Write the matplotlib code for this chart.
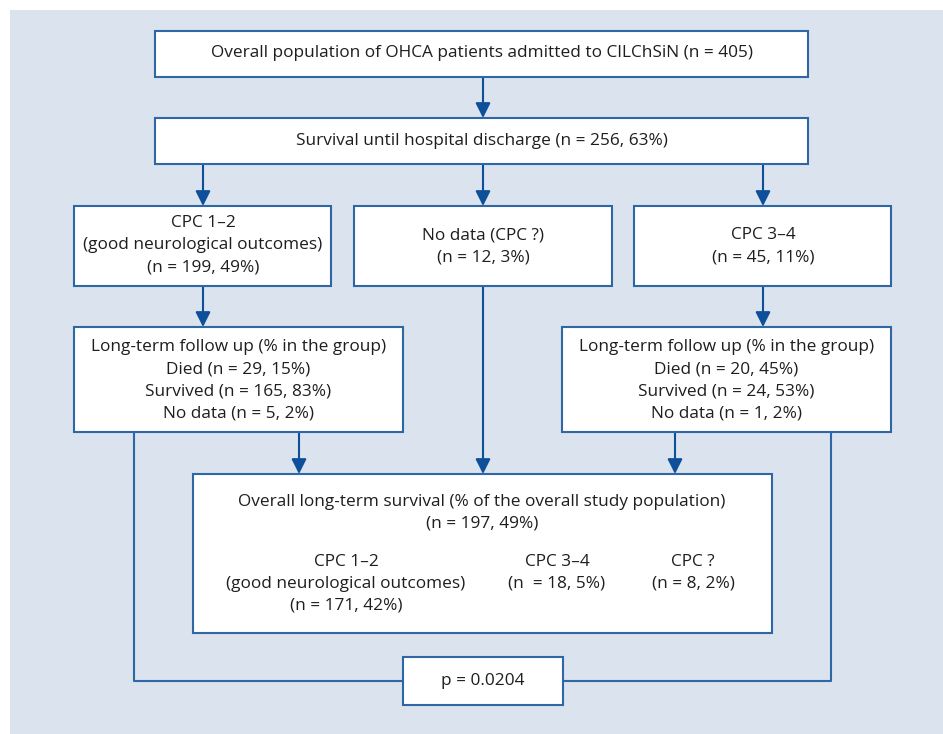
# Schemat przepływu pacjentów OHCA - odtworzenie ryciny

import matplotlib.pyplot as plt
from matplotlib.patches import Rectangle

# dane z ryciny
n_ogolem = 405
wypis = (256, 63)
cpc12 = (199, 49)
brak_cpc = (12, 3)
cpc34 = (45, 11)
obserwacja_cpc12 = [('Died', 29, 15), ('Survived', 165, 83), ('No data', 5, 2)]
obserwacja_cpc34 = [('Died', 20, 45), ('Survived', 24, 53), ('No data', 1, 2)]
przezycie_ogolem = (197, 49)
przezycie_cpc12 = (171, 42)
przezycie_cpc34 = (18, 5)
przezycie_brak = (8, 2)
wartosc_p = '0.0204'

TLO = '#dae3ee'
RAMKA = '#2f66a6'
STRZALKA = '#0d4f98'
TEKST = '#1e1e1e'

plt.rcParams['font.family'] = ['Open Sans', 'DejaVu Sans']

fig = plt.figure(figsize=(9.43, 7.34), dpi=100)
ax = fig.add_axes([0, 0, 1, 1])
ax.set_xlim(0, 943)
ax.set_ylim(734, 0)
ax.axis('off')

ax.add_patch(Rectangle((10, 10), 933, 724, facecolor=TLO, edgecolor='none', zorder=0))


def ramka(x0, y0, x1, y1):
    ax.add_patch(Rectangle((x0, y0), x1 - x0, y1 - y0, facecolor='white',
                           edgecolor=RAMKA, lw=1.5, zorder=2))


def napis(x, y, tekst):
    ax.text(x, y, tekst, ha='center', va='center', fontsize=12.4, color=TEKST, zorder=3)


def strzalka(x, y0, y1):
    ax.annotate('', xy=(x, y1), xytext=(x, y0),
                arrowprops=dict(arrowstyle='-|>,head_length=0.9,head_width=0.45',
                                color=STRZALKA, lw=1.5, shrinkA=0, shrinkB=0),
                zorder=1)


def linia(xs, ys):
    ax.plot(xs, ys, color=RAMKA, lw=1.5, zorder=1, solid_capstyle='butt')


# poziom 1 i 2
ramka(155, 31, 808, 77)
napis(482, 53, f'Overall population of OHCA patients admitted to CILChSiN (n = {n_ogolem})')
strzalka(483, 77, 118)

ramka(155, 118, 808, 164)
napis(482, 141, f'Survival until hospital discharge (n = {wypis[0]}, {wypis[1]}%)')
for x in (203, 483, 763):
    strzalka(x, 164, 206)

# poziom 3
ramka(74, 206, 331, 286)
napis(203, 223, 'CPC 1–2')
napis(203, 245, '(good neurological outcomes)')
napis(203, 268, f'(n = {cpc12[0]}, {cpc12[1]}%)')

ramka(354, 206, 612, 286)
napis(483, 235, 'No data (CPC ?)')
napis(483, 258, f'(n = {brak_cpc[0]}, {brak_cpc[1]}%)')

ramka(634, 206, 891, 286)
napis(763, 235, 'CPC 3–4')
napis(763, 257, f'(n = {cpc34[0]}, {cpc34[1]}%)')

strzalka(203, 286, 327)
strzalka(763, 286, 327)

# poziom 4 - obserwacja długoterminowa
for (x0, x1, grupa) in ((74, 403, obserwacja_cpc12), (562, 891, obserwacja_cpc34)):
    ramka(x0, 327, x1, 432)
    xc = (x0 + x1) / 2
    napis(xc, 347, 'Long-term follow up (% in the group)')
    for i, (nazwa, n, proc) in enumerate(grupa):
        napis(xc, 369 + 22 * i, f'{nazwa} (n = {n}, {proc}%)')

strzalka(299, 432, 474)
strzalka(483, 286, 474)
strzalka(675, 432, 474)

# przeżycie ogólne
ramka(193, 474, 772, 633)
napis(482, 502, 'Overall long-term survival (% of the overall study population)')
napis(482, 523, f'(n = {przezycie_ogolem[0]}, {przezycie_ogolem[1]}%)')
napis(346, 562, 'CPC 1–2')
napis(346, 584, '(good neurological outcomes)')
napis(346, 606, f'(n = {przezycie_cpc12[0]}, {przezycie_cpc12[1]}%)')
napis(557, 562, 'CPC 3–4')
napis(557, 584, f'(n  = {przezycie_cpc34[0]}, {przezycie_cpc34[1]}%)')
napis(693, 562, 'CPC ?')
napis(693, 584, f'(n = {przezycie_brak[0]}, {przezycie_brak[1]}%)')

# porównanie - wartość p
linia([134, 134, 403], [432, 681, 681])
linia([831, 831, 563], [432, 681, 681])
ramka(403, 657, 563, 705)
napis(483, 681, f'p = {wartosc_p}')

fig.savefig('out.png', dpi=100)
